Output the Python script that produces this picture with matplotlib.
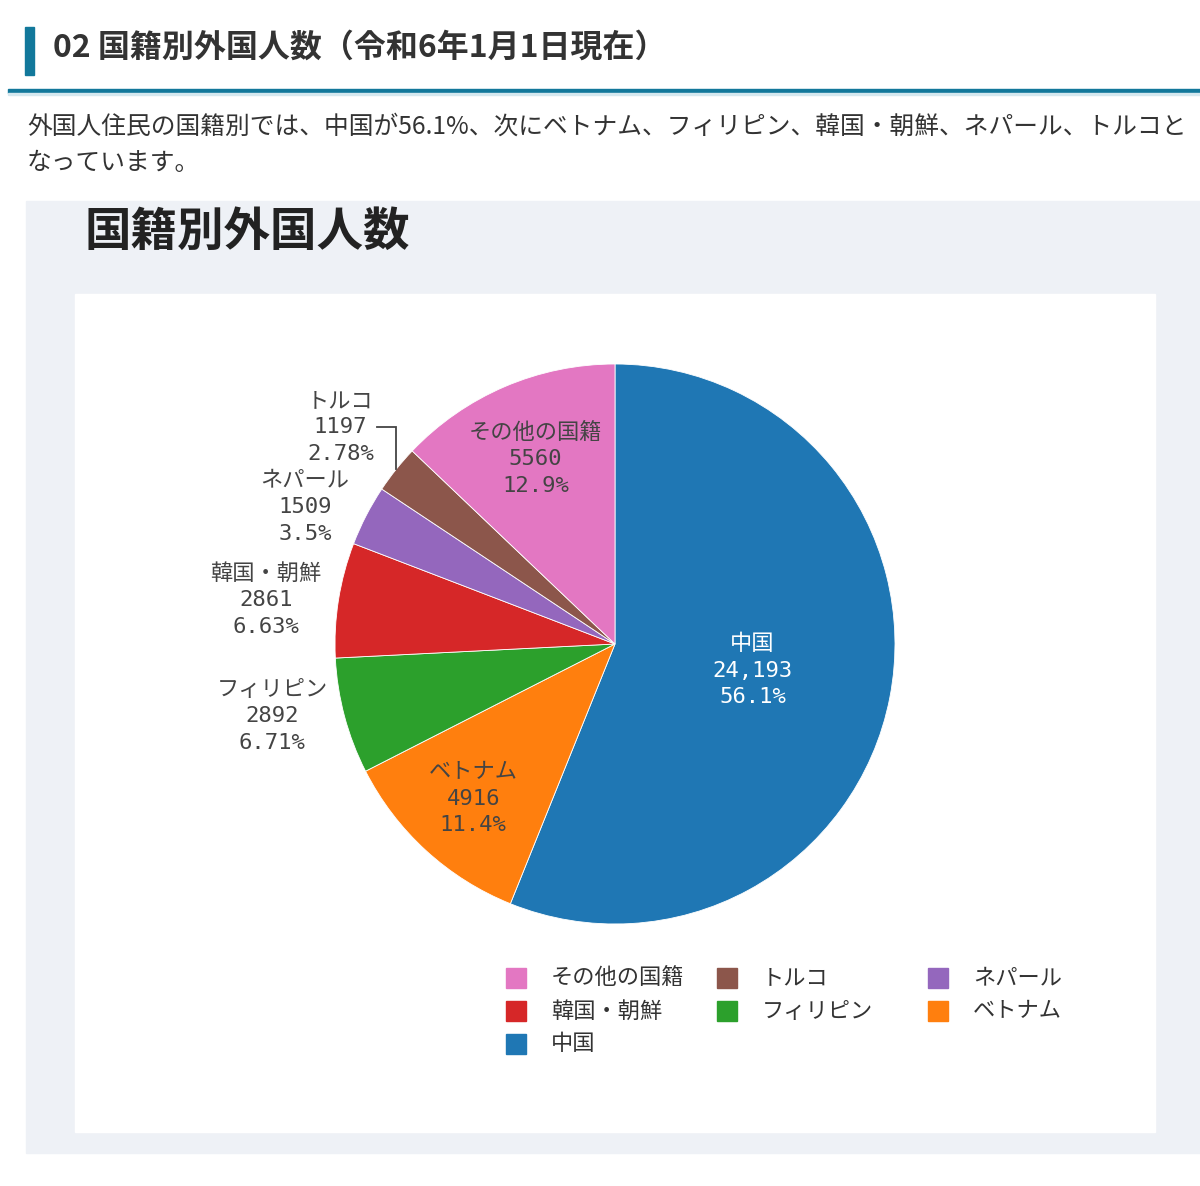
import numpy as np
import matplotlib.pyplot as plt
from matplotlib.patches import Rectangle

plt.rcParams['font.family'] = ['Noto Sans CJK JP', 'DejaVu Sans']

# データ（令和6年1月1日現在）
countries = ['中国', 'ベトナム', 'フィリピン', '韓国・朝鮮', 'ネパール', 'トルコ', 'その他の国籍']
people = [24193, 4916, 2892, 2861, 1509, 1197, 5560]
colors = ['#1f77b4', '#ff7f0e', '#2ca02c', '#d62728', '#9467bd', '#8c564b', '#e377c2']
legend_order = ['その他の国籍', 'トルコ', 'ネパール', '韓国・朝鮮', 'フィリピン', 'ベトナム', '中国']

heading = '02 国籍別外国人数（令和6年1月1日現在）'
intro = ['外国人住民の国籍別では、中国が56.1%、次にベトナム、フィリピン、韓国・朝鮮、ネパール、トルコと',
         'なっています。']
chart_title = '国籍別外国人数'

W, H = 1200, 1186
fig = plt.figure(figsize=(W / 100, H / 100), dpi=100)

# ページ部分（ピクセル座標）
bg = fig.add_axes([0, 0, 1, 1])
bg.set_xlim(0, W)
bg.set_ylim(H, 0)
bg.axis('off')
bg.add_patch(Rectangle((25, 27), 9, 48, color='#12789b'))
bg.text(53, 48, heading, fontsize=23, fontweight='bold', color='#333333', va='center')
bg.add_patch(Rectangle((8, 89), W - 8, 3.5, color='#12789b'))
bg.add_patch(Rectangle((8, 92.5), W - 8, 2, color='#d5e8ef'))
for i, line in enumerate(intro):
    bg.text(27, 127 + i * 36, line, fontsize=17.8, color='#333333', va='center')
bg.add_patch(Rectangle((26, 201), W - 26, 952, color='#eef1f6'))
bg.add_patch(Rectangle((75, 294), 1080, 838, color='white'))
bg.text(85, 232, chart_title, fontsize=33.5, fontweight='bold', color='#222222', va='center')

# 円グラフ
cx, cy, r = 615, 644, 280
ax = fig.add_axes([(cx - r) / W, (H - cy - r) / H, 2 * r / W, 2 * r / H])
wedges, _ = ax.pie(people, colors=colors, startangle=90, counterclock=False,
                   radius=1, wedgeprops=dict(linewidth=0.6, edgecolor='white'))
ax.set_xlim(-1, 1)
ax.set_ylim(-1, 1)
ax.set_aspect('equal')
ax.axis('off')

total = sum(people)
label_font = dict(family=['DejaVu Sans Mono', 'Noto Sans CJK JP'], fontsize=16,
                  linespacing=1.4, multialignment='center')
inside_r = {'中国': 0.5, 'ベトナム': 0.75, 'その他の国籍': 0.72}
nudge = {'ネパール': (0.0, 0.03), 'トルコ': (-0.02, 0.15)}

for w, name, n in zip(wedges, countries, people):
    mid = np.deg2rad((w.theta1 + w.theta2) / 2)
    ux, uy = np.cos(mid), np.sin(mid)
    pct = n / total * 100
    pct_txt = f'{pct:.3g}%'
    num_txt = f'{n:,}' if n >= 10000 else str(n)
    txt = f'{name}\n{num_txt}\n{pct_txt}'
    if name in inside_r:
        rr = inside_r[name]
        tc = 'white' if name == '中国' else '#444444'
        ax.text(ux * rr, uy * rr, txt, ha='center', va='center', color=tc, **label_font)
    else:
        dx, dy = nudge.get(name, (0.0, 0.0))
        tx, ty = ux - 0.06 + dx, uy + dy
        ax.text(tx, ty, txt, ha='right', va='center', color='#444444', **label_font)
        if name == 'トルコ':
            ax.plot([tx + 0.01, ux, ux], [ty, ty, uy], color='#444444', lw=1.3,
                    solid_joinstyle='miter', clip_on=False)

# 凡例（3列）
for i, name in enumerate(legend_order):
    row, col = divmod(i, 3)
    x0, y0 = 506 + col * 211, 978 + row * 33
    c = colors[countries.index(name)]
    bg.add_patch(Rectangle((x0, y0 - 10), 20, 20, color=c))
    bg.text(x0 + 45, y0, name, fontsize=16, color='#333333', va='center')

fig.savefig('out.png', dpi=100)
